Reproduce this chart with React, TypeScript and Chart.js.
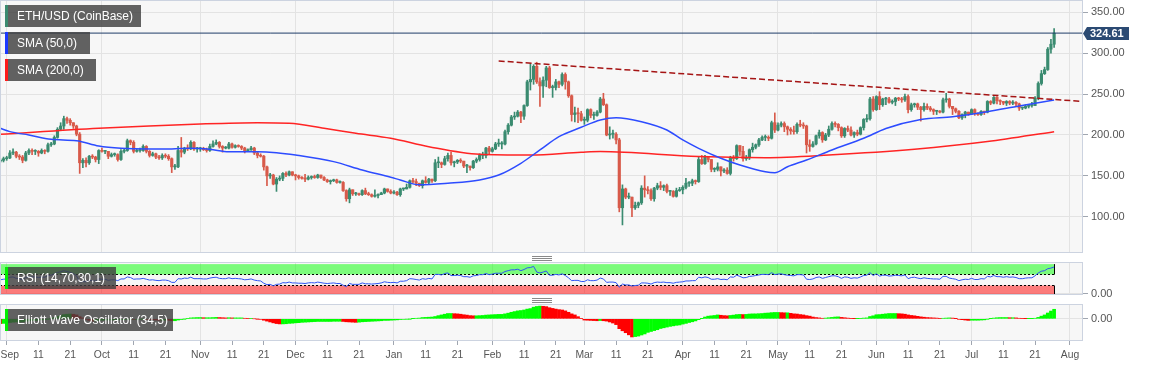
import React, { useEffect, useRef } from 'react';
import { Chart, registerables } from 'chart.js';

Chart.register(...registerables);
Chart.defaults.font.family = '"Liberation Sans", Arial, sans-serif';

// Day index: 0 = 1 Sep 2019. First candle = 30 Aug 2019.
const FIRST_DAY = -2;
const X_MIN = -2.11;
const X_MAX = 339.1;

const monthStartDays = [0, 30, 61, 91, 122, 153, 182, 213, 243, 274, 304, 335];
const xTickDays = [0, 10, 20, 30, 40, 50, 61, 71, 81, 91, 101, 111, 122, 132, 142, 153, 163, 173, 182, 192, 202, 213, 223, 233, 243, 253, 263, 274, 284, 294, 304, 314, 324, 335];
const xTickLabels = ['Sep', '11', '21', 'Oct', '11', '21', 'Nov', '11', '21', 'Dec', '11', '21', 'Jan', '11', '21', 'Feb', '11', '21', 'Mar', '11', '21', 'Apr', '11', '21', 'May', '11', '21', 'Jun', '11', '21', 'Jul', '11', '21', 'Aug'];
const priceTicks = [100, 150, 200, 250, 300, 350];
const rsiLevels = [30, 70];

const firstOpen = 168;
const closes = [
  169, 171,
  172, 178, 179, 174, 173, 169, 178, 181, 180, 180, 178, 181, 180, 188, 189, 197, 207, 211, 220, 218, 215, 211, 201, 166, 169, 166, 174, 173, 170, 181,
  180, 180, 174, 176, 176, 170, 180, 181, 193, 191, 180, 181, 181, 186, 180, 175, 177, 173, 172, 175, 174, 171, 161, 161, 181, 179, 184, 183, 191, 183, 183,
  183, 182, 181, 186, 189, 191, 186, 184, 184, 189, 185, 187, 186, 184, 180, 182, 184, 178, 175, 174, 161, 150, 151, 140, 146, 147, 153, 151, 155, 151,
  150, 148, 147, 146, 148, 149, 148, 151, 148, 145, 143, 144, 145, 142, 142, 132, 122, 133, 128, 128, 127, 132, 128, 127, 125, 126, 127, 129, 134, 131, 129,
  130, 127, 134, 134, 136, 144, 143, 141, 138, 144, 142, 146, 144, 166, 166, 164, 171, 175, 166, 167, 169, 168, 162, 162, 160, 168, 170, 175, 175, 184, 180,
  183, 189, 189, 189, 204, 212, 222, 223, 228, 223, 236, 265, 268, 284, 265, 260, 267, 282, 258, 258, 265, 262, 274, 265, 248, 225, 227, 226, 218,
  218, 231, 224, 224, 228, 244, 237, 200, 201, 201, 194, 111, 134, 124, 124, 111, 114, 117, 135, 133, 132, 122, 135, 138, 136, 138, 131, 131, 125, 132, 133,
  136, 141, 141, 144, 143, 170, 165, 173, 170, 158, 158, 161, 156, 157, 153, 172, 171, 187, 180, 171, 172, 182, 185, 188, 194, 197, 197, 196, 215, 206,
  212, 214, 210, 207, 205, 204, 213, 212, 211, 188, 186, 189, 199, 203, 194, 200, 207, 214, 213, 209, 199, 208, 206, 200, 203, 201, 209, 219, 220, 244, 231,
  247, 237, 244, 244, 240, 241, 245, 244, 243, 247, 231, 237, 238, 234, 231, 235, 233, 231, 229, 229, 228, 243, 244, 235, 232, 229, 221, 225, 228, 226,
  231, 226, 225, 229, 228, 241, 239, 246, 242, 241, 239, 241, 239, 240, 238, 233, 233, 235, 236, 236, 245, 263, 275, 280, 305, 311, 324.61,
];
const highs = [
  171, 173,
  174, 181, 183, 180, 176, 175, 180, 183, 183, 182, 181, 183, 182, 190, 191, 199, 209, 215, 223, 222, 220, 215, 212, 203, 171, 172, 175, 176, 174, 182,
  184, 181, 180, 178, 178, 177, 182, 183, 195, 194, 193, 183, 184, 188, 187, 181, 179, 178, 175, 177, 177, 176, 172, 164, 186, 197, 185, 188, 193, 192, 185,
  185, 185, 184, 189, 193, 194, 192, 187, 186, 191, 190, 188, 188, 187, 185, 183, 186, 185, 179, 177, 175, 162, 153, 152, 148, 150, 154, 155, 156, 155,
  152, 151, 149, 152, 150, 150, 151, 152, 151, 149, 146, 145, 146, 146, 144, 143, 133, 135, 133, 130, 129, 133, 135, 130, 128, 133, 128, 130, 135, 134, 133,
  132, 131, 135, 135, 140, 145, 147, 146, 141, 145, 149, 147, 146, 170, 173, 167, 174, 178, 179, 168, 170, 171, 168, 164, 162, 169, 172, 177, 179, 185, 186,
  185, 191, 195, 192, 206, 214, 224, 228, 230, 229, 237, 267, 287, 286, 289, 270, 271, 284, 284, 261, 268, 266, 276, 276, 266, 249, 234, 233, 229,
  222, 232, 232, 228, 230, 246, 251, 238, 210, 206, 203, 196, 139, 135, 129, 124, 118, 118, 138, 150, 137, 134, 136, 141, 143, 139, 140, 132, 132, 135, 136,
  138, 147, 143, 146, 145, 173, 175, 175, 173, 170, 160, 166, 161, 159, 160, 174, 175, 188, 187, 186, 175, 183, 190, 189, 196, 199, 200, 199, 217, 227,
  215, 216, 216, 211, 209, 211, 215, 218, 215, 212, 194, 192, 200, 206, 204, 202, 211, 216, 216, 214, 210, 209, 211, 210, 204, 206, 210, 220, 225, 246, 247,
  248, 253, 245, 246, 246, 243, 246, 246, 246, 250, 249, 239, 239, 239, 235, 239, 238, 235, 232, 230, 230, 245, 251, 245, 235, 233, 230, 226, 229, 228,
  232, 232, 227, 230, 229, 242, 242, 247, 247, 243, 241, 242, 242, 242, 241, 239, 234, 237, 237, 240, 247, 265, 279, 283, 307, 317, 330,
];
const lows = [
  166, 167,
  169, 171, 176, 172, 170, 166, 168, 176, 176, 176, 174, 177, 177, 179, 186, 188, 196, 206, 207, 214, 212, 208, 199, 153, 160, 161, 164, 171, 167, 165,
  179, 177, 171, 173, 174, 168, 169, 178, 180, 188, 178, 179, 179, 180, 178, 173, 174, 171, 170, 170, 172, 169, 154, 158, 160, 173, 177, 181, 182, 181, 179,
  180, 181, 179, 180, 185, 188, 184, 179, 183, 183, 184, 184, 185, 182, 178, 180, 181, 176, 172, 173, 157, 138, 147, 139, 131, 144, 144, 149, 150, 150,
  145, 146, 146, 143, 145, 146, 147, 147, 147, 144, 142, 140, 143, 141, 141, 131, 119, 117, 126, 126, 126, 126, 127, 126, 124, 124, 123, 127, 128, 130, 128,
  128, 126, 125, 132, 134, 135, 141, 138, 137, 135, 141, 140, 142, 143, 160, 160, 163, 168, 163, 161, 165, 166, 160, 154, 157, 159, 166, 168, 171, 172, 176,
  179, 182, 186, 183, 188, 201, 211, 219, 222, 215, 219, 235, 255, 262, 263, 235, 246, 259, 257, 246, 255, 258, 260, 256, 246, 217, 216, 215, 217,
  213, 216, 221, 219, 223, 227, 236, 199, 195, 196, 189, 106, 90, 122, 122, 100, 109, 111, 115, 124, 128, 120, 119, 133, 133, 132, 129, 126, 124, 124, 131,
  128, 134, 137, 138, 140, 142, 164, 164, 167, 155, 155, 156, 150, 154, 152, 151, 168, 170, 175, 168, 169, 170, 179, 183, 186, 193, 193, 193, 195, 203,
  205, 210, 204, 200, 201, 201, 202, 210, 208, 178, 180, 185, 188, 196, 191, 193, 198, 206, 210, 205, 197, 197, 204, 199, 197, 199, 200, 206, 216, 218, 229,
  230, 231, 235, 237, 239, 238, 236, 242, 240, 241, 227, 229, 234, 231, 217, 229, 231, 229, 225, 225, 227, 227, 240, 233, 225, 227, 220, 219, 221, 224,
  225, 224, 224, 224, 225, 227, 237, 238, 238, 237, 237, 236, 237, 237, 236, 230, 231, 232, 233, 234, 236, 243, 261, 274, 279, 300, 307,
];

const sma50Days = [-2, 1, 7, 14, 22, 29, 36, 45, 52, 58, 64, 70, 79, 85, 91, 103, 112, 121, 124, 130, 139, 149, 155, 162, 168, 174, 181, 187, 192, 200, 208, 213, 218, 225, 231, 239, 242, 246, 252, 260, 270, 277, 288, 298, 309, 319, 330];
const sma50Values = [208.2, 204.1, 200, 194.7, 193, 186.5, 183.7, 182.9, 183, 183.7, 182.5, 179.6, 179.6, 178.4, 175.5, 167.4, 157.2, 148.3, 145, 139, 141, 145, 151, 165.4, 181.7, 198, 209.4, 218.3, 221.2, 216.3, 206.1, 193.9, 183.7, 171.5, 163.3, 155.1, 153.9, 161.2, 169.4, 181.7, 196, 208, 219, 222.4, 228.5, 235.5, 242.8];
const sma200Days = [-2, 29, 61, 79, 89, 100, 110, 121, 133, 149, 165, 181, 187, 218, 239, 259, 286, 309, 330];
const sma200Values = [200.8, 208.2, 213.4, 215, 214.3, 208.2, 202, 196, 185.7, 176.4, 175.5, 178.8, 179.7, 173.6, 172.3, 175.5, 182.5, 191.9, 204.1];
const trendDays = [155, 339.1];
const trendValues = [290.5, 241];

const rsi14 = [
  48, 50,
  51, 57, 58, 53, 52, 48, 56, 59, 58, 58, 56, 58, 57, 63, 64, 69, 74, 76, 80, 77, 74, 70, 62, 40, 42, 41, 46, 45, 44, 51,
  50, 50, 46, 48, 48, 45, 51, 51, 58, 56, 50, 51, 51, 53, 50, 47, 48, 46, 45, 47, 47, 45, 39, 39, 52, 51, 54, 53, 57, 52, 52,
  52, 51, 51, 54, 56, 57, 53, 52, 52, 55, 52, 53, 52, 51, 48, 49, 51, 47, 45, 44, 36, 31, 32, 27, 32, 33, 38, 37, 40, 37,
  37, 36, 36, 35, 37, 38, 37, 40, 38, 36, 35, 36, 37, 35, 35, 29, 24, 35, 32, 32, 32, 37, 34, 34, 33, 34, 35, 37, 41, 39, 38,
  39, 37, 43, 43, 45, 52, 51, 49, 47, 52, 50, 53, 51, 67, 67, 65, 70, 72, 63, 63, 64, 63, 59, 59, 57, 62, 63, 66, 66, 70, 66,
  68, 71, 71, 71, 77, 80, 83, 83, 85, 80, 84, 90, 91, 95, 75, 72, 75, 79, 64, 64, 67, 65, 69, 63, 55, 45, 46, 46, 42,
  42, 48, 45, 45, 47, 54, 51, 39, 40, 40, 38, 22, 33, 30, 30, 26, 28, 29, 37, 37, 36, 33, 38, 40, 39, 40, 38, 38, 36, 39, 40,
  41, 44, 44, 45, 45, 57, 55, 58, 56, 50, 50, 52, 49, 50, 48, 58, 57, 64, 60, 55, 56, 60, 61, 63, 65, 67, 67, 66, 73, 66,
  68, 69, 66, 64, 63, 62, 66, 66, 65, 50, 49, 51, 56, 58, 53, 56, 59, 62, 62, 59, 53, 58, 57, 53, 55, 54, 58, 63, 64, 73, 63,
  69, 61, 64, 64, 61, 62, 64, 63, 62, 65, 52, 56, 57, 54, 52, 55, 53, 52, 51, 51, 50, 60, 60, 54, 52, 50, 45, 48, 50, 49,
  53, 49, 49, 52, 51, 60, 58, 63, 59, 59, 57, 59, 57, 58, 56, 52, 52, 54, 55, 55, 62, 72, 78, 80, 87, 89, 93,
];

const ewo = [
  -27, -26,
  -24, -21, -19, -18, -18, -17, -14, -12, -10, -9, -8, -6, -4, -1, 2, 7, 13, 18, 24, 26, 27, 26, 22, 12, 5, -3, -9, -13, -12, -9,
  -8, -7, -7, -7, -6, -6, -5, -4, -2, -2, -3, -3, -2, -1, -3, -4, -5, -7, -8, -8, -8, -9, -11, -11, -7, -4, -1, 2, 5, 6, 7,
  7, 6, 6, 6, 7, 8, 7, 6, 5, 6, 5, 5, 5, 5, 3, 2, 2, 0, -1, -3, -8, -13, -18, -23, -27, -29, -29, -28, -26, -25,
  -23, -22, -20, -19, -18, -17, -16, -15, -15, -15, -15, -15, -14, -14, -14, -15, -17, -18, -19, -20, -19, -17, -16, -15, -14, -13, -12, -11, -9, -9, -8,
  -7, -6, -4, -3, -2, -1, 1, 3, 4, 7, 8, 9, 10, 13, 18, 22, 26, 30, 30, 29, 28, 26, 23, 21, 18, 17, 17, 18, 19, 21, 22,
  23, 24, 25, 25, 28, 32, 37, 41, 45, 47, 50, 55, 58, 66, 70, 72, 71, 69, 63, 59, 55, 52, 50, 45, 37, 28, 22, 12, 2,
  -7, -8, -9, -10, -11, -10, -11, -13, -18, -24, -33, -56, -68, -79, -91, -103, -101, -98, -92, -86, -77, -72, -67, -62, -55, -51, -47, -43, -40, -37, -35,
  -30, -26, -21, -17, -12, -5, 1, 10, 15, 17, 19, 22, 20, 18, 17, 19, 21, 24, 25, 24, 25, 27, 28, 28, 29, 30, 32, 33, 35, 36,
  36, 35, 34, 34, 31, 28, 27, 24, 22, 18, 15, 10, 7, 5, 3, 4, 6, 8, 10, 11, 8, 6, 4, 2, 1, 1, 2, 4, 5, 13, 17,
  23, 24, 26, 28, 30, 30, 30, 29, 28, 26, 22, 19, 17, 14, 11, 9, 7, 6, 5, 4, 2, 3, 4, 5, 4, 1, -3, -5, -7, -9,
  -8, -8, -8, -7, -6, -2, 1, 4, 6, 7, 7, 7, 6, 6, 5, 3, 2, 1, 1, 1, 3, 8, 15, 22, 33, 44, 54,
];

const lastPrice = closes[closes.length - 1];

// ---------- styles ----------
const UP = '#3a8b70';
const DOWN = '#d85a4a';
const GRID = '#e3e3e3';
const FRAME = '#ccd3e0';
const LABEL = '#555555';
const W = 1153;
const AXIS_W = 70;

const panelPlugin = {
  id: 'panelFrame',
  beforeDraw(chart: any) {
    const { ctx, chartArea: a } = chart;
    ctx.save();
    ctx.fillStyle = '#f7f7f7';
    ctx.fillRect(a.left, a.top, a.right - a.left, a.bottom - a.top);
    ctx.restore();
  },
  afterDraw(chart: any) {
    const { ctx, chartArea: a } = chart;
    ctx.save();
    ctx.strokeStyle = FRAME;
    ctx.lineWidth = 1;
    ctx.strokeRect(a.left + 0.5, a.top + 0.5, a.right - a.left - 1, a.bottom - a.top - 1);
    ctx.restore();
  },
};

const priceTagPlugin = {
  id: 'priceTag',
  afterDraw(chart: any) {
    const { ctx, chartArea: a } = chart;
    const y = Math.round(chart.scales.y.getPixelForValue(lastPrice)) + 0.5;
    const x0 = a.right;
    ctx.save();
    ctx.fillStyle = '#2b4a73';
    ctx.beginPath();
    ctx.moveTo(x0, y);
    ctx.lineTo(x0 + 4, y - 6.5);
    ctx.lineTo(x0 + 46, y - 6.5);
    ctx.lineTo(x0 + 46, y + 6.5);
    ctx.lineTo(x0 + 4, y + 6.5);
    ctx.closePath();
    ctx.fill();
    ctx.fillStyle = '#ffffff';
    ctx.font = 'bold 11px "Liberation Sans", Arial, sans-serif';
    ctx.textBaseline = 'middle';
    ctx.textAlign = 'left';
    ctx.fillText(lastPrice.toFixed(2), x0 + 7, y + 0.5);
    ctx.restore();
  },
};

const rsiBandsPlugin = {
  id: 'rsiBands',
  beforeDatasetsDraw(chart: any) {
    const { ctx, chartArea: a, scales } = chart;
    const xs = scales.x, ys = scales.y;
    const lastDay = FIRST_DAY + closes.length - 1;
    const x0 = a.left;
    const x1 = Math.round(xs.getPixelForValue(lastDay)) + 0.5;
    const yTop = ys.getPixelForValue(103);
    const y70 = Math.round(ys.getPixelForValue(rsiLevels[1])) + 0.5;
    const y30 = Math.round(ys.getPixelForValue(rsiLevels[0])) + 0.5;
    const yBot = a.bottom;
    ctx.save();
    ctx.fillStyle = 'rgba(0,255,0,0.5)';
    ctx.fillRect(x0, yTop, x1 - x0, y70 - yTop);
    ctx.fillStyle = 'rgba(255,0,0,0.5)';
    ctx.fillRect(x0, y30, x1 - x0, yBot - y30);
    ctx.strokeStyle = '#000';
    ctx.lineWidth = 1;
    ctx.setLineDash([2, 2]);
    ctx.beginPath();
    ctx.moveTo(x0, y70); ctx.lineTo(x1, y70);
    ctx.moveTo(x0, y30); ctx.lineTo(x1, y30);
    ctx.stroke();
    ctx.setLineDash([]);
    ctx.beginPath();
    ctx.moveTo(x1, yTop); ctx.lineTo(x1, y70);
    ctx.moveTo(x1, y30); ctx.lineTo(x1, yBot);
    ctx.moveTo(x0 + 0.5, yTop); ctx.lineTo(x0 + 0.5, y70);
    ctx.moveTo(x0 + 0.5, y30); ctx.lineTo(x0 + 0.5, yBot);
    ctx.stroke();
    ctx.restore();
  },
};

const xLabelPlugin = {
  id: 'xLabels',
  afterDraw(chart: any) {
    const { ctx, chartArea: a, scales } = chart;
    ctx.save();
    ctx.fillStyle = LABEL;
    ctx.font = '11.5px "Liberation Sans", Arial, sans-serif';
    ctx.textBaseline = 'middle';
    ctx.textAlign = 'center';
    const sx = 0.9;
    xTickDays.forEach((d, i) => {
      const text = xTickLabels[i];
      const w = ctx.measureText(text).width * sx;
      let x = scales.x.getPixelForValue(d);
      if (x - w / 2 < 0) x = w / 2 + 0.5;
      ctx.save();
      ctx.translate(x, a.bottom + 13.5);
      ctx.scale(sx, 1);
      ctx.fillText(text, 0, 0);
      ctx.restore();
    });
    ctx.restore();
  },
};

const noPadding = (s: any) => {
  s.paddingTop = 0;
  s.paddingBottom = 0;
  s.paddingLeft = 0;
  s.paddingRight = 0;
};

const fixedRightAxis = (ticks: number[], min: number, max: number) => ({
  position: 'right' as const,
  min,
  max,
  afterBuildTicks: (s: any) => { s.ticks = ticks.map((v) => ({ value: v })); },
  afterFit: (s: any) => { s.width = AXIS_W; noPadding(s); },
  ticks: {
    callback: (v: any) => Number(v).toFixed(2),
    color: LABEL,
    font: { size: 11 },
    padding: 3,
  },
  grid: { color: GRID, tickLength: 5, tickColor: '#a0a6b0' },
  border: { display: false },
});

const hiddenX = (ticks: number[]) => ({
  type: 'linear' as const,
  min: X_MIN,
  max: X_MAX,
  offset: false,
  afterBuildTicks: (s: any) => { s.ticks = ticks.map((v) => ({ value: v })); },
  afterFit: (s: any) => { s.height = 0; noPadding(s); },
  ticks: { display: false },
  grid: { color: GRID, drawTicks: false, offset: false },
  border: { display: false },
});

const baseOptions = {
  responsive: false,
  maintainAspectRatio: false,
  animation: false as const,
  devicePixelRatio: 1,
  events: [] as any[],
  plugins: { legend: { display: false }, tooltip: { enabled: false } },
};

function buildMain(canvas: HTMLCanvasElement) {
  const days = closes.map((_, i) => FIRST_DAY + i);
  const opens = closes.map((_, i) => (i === 0 ? firstOpen : closes[i - 1]));
  const colors = closes.map((c, i) => (c >= opens[i] ? UP : DOWN));
  const wicks = days.map((d, i) => ({
    x: d,
    y: [Math.min(lows[i], opens[i], closes[i]), Math.max(highs[i], opens[i], closes[i])],
  }));
  const bodies = days.map((d, i) => ({ x: d, y: [opens[i], closes[i]] }));
  return new Chart(canvas, {
    type: 'bar',
    data: {
      datasets: [
        { type: 'bar', data: wicks as any, backgroundColor: colors, barThickness: 1, grouped: false, order: 6 } as any,
        { type: 'bar', data: bodies as any, backgroundColor: colors, barThickness: 2.5, grouped: false, minBarLength: 1, order: 5 } as any,
        { type: 'line', data: sma200Days.map((d, i) => ({ x: d, y: sma200Values[i] })), borderColor: '#ff2424', borderWidth: 1.5, pointRadius: 0, cubicInterpolationMode: 'monotone', order: 3 } as any,
        { type: 'line', data: sma50Days.map((d, i) => ({ x: d, y: sma50Values[i] })), borderColor: '#2d4cff', borderWidth: 1.5, pointRadius: 0, cubicInterpolationMode: 'monotone', order: 2 } as any,
        { type: 'line', data: trendDays.map((d, i) => ({ x: d, y: trendValues[i] })), borderColor: '#a51414', borderWidth: 1.5, borderDash: [6, 3], pointRadius: 0, order: 1 } as any,
        { type: 'line', data: [{ x: X_MIN, y: lastPrice }, { x: X_MAX, y: lastPrice }], borderColor: '#1f3d68', borderWidth: 1, pointRadius: 0, order: 1 } as any,
      ],
    },
    options: {
      ...baseOptions,
      layout: { autoPadding: false, padding: { top: 0, bottom: 5, left: 0, right: 0 } },
      scales: {
        x: hiddenX(monthStartDays) as any,
        y: fixedRightAxis(priceTicks, 55.66, 365.1) as any,
      },
    } as any,
    plugins: [panelPlugin, priceTagPlugin],
  });
}

function buildRsi(canvas: HTMLCanvasElement) {
  const data = rsi14.map((v, i) => ({ x: FIRST_DAY + i, y: v }));
  return new Chart(canvas, {
    type: 'line',
    data: {
      datasets: [
        { data, borderColor: '#2f55f5', borderWidth: 1, pointRadius: 0, tension: 0 } as any,
      ],
    },
    options: {
      ...baseOptions,
      layout: { autoPadding: false, padding: { top: 4, bottom: 9, left: 0, right: 0 } },
      scales: {
        x: hiddenX(monthStartDays) as any,
        y: fixedRightAxis([0], -5.3, 110.4) as any,
      },
    } as any,
    plugins: [panelPlugin, rsiBandsPlugin],
  });
}

function buildEwo(canvas: HTMLCanvasElement) {
  const data = ewo.map((v, i) => ({ x: FIRST_DAY + i, y: v }));
  const colors = ewo.map((v, i) => (i > 0 && v >= ewo[i - 1] ? '#00ff00' : '#ff0000'));
  return new Chart(canvas, {
    type: 'bar',
    data: {
      datasets: [
        { data, backgroundColor: colors, barThickness: 3, grouped: false } as any,
      ],
    },
    options: {
      ...baseOptions,
      layout: { autoPadding: false, padding: { top: 4, bottom: 0, left: 0, right: 0 } },
      scales: {
        x: {
          type: 'linear',
          min: X_MIN,
          max: X_MAX,
          offset: false,
          afterBuildTicks: (s: any) => { s.ticks = xTickDays.map((v) => ({ value: v })); },
          afterFit: (s: any) => { s.height = 26; noPadding(s); },
          ticks: { display: false },
          grid: {
            color: (c: any) => (c.tick && monthStartDays.includes(c.tick.value) ? GRID : 'rgba(0,0,0,0)'),
            tickColor: '#a0a6b0',
            tickLength: 4,
            offset: false,
          },
          border: { display: false },
        },
        y: fixedRightAxis([0], -126, 84) as any,
      },
    } as any,
    plugins: [panelPlugin, xLabelPlugin],
  });
}

const boxStyle = (top: number, width: number, stripe: string): React.CSSProperties => ({
  position: 'absolute',
  left: 5,
  top,
  width,
  height: 22,
  boxSizing: 'border-box',
  background: 'rgba(64,64,64,0.82)',
  borderLeft: `3px solid ${stripe}`,
  color: '#ffffff',
  font: '12px "Liberation Sans", Arial, sans-serif',
  lineHeight: '22px',
  paddingLeft: 9,
  whiteSpace: 'nowrap',
});

function Grip({ top }: { top: number }) {
  const line = (dy: number): React.CSSProperties => ({
    position: 'absolute', left: 532, top: top + dy, width: 20, height: 1, background: '#8a8a8a',
  });
  return (
    <>
      <div style={line(0)} />
      <div style={line(2)} />
      <div style={line(4)} />
    </>
  );
}

export default function App() {
  const mainRef = useRef<HTMLCanvasElement>(null);
  const rsiRef = useRef<HTMLCanvasElement>(null);
  const ewoRef = useRef<HTMLCanvasElement>(null);

  useEffect(() => {
    const charts = [
      buildMain(mainRef.current!),
      buildRsi(rsiRef.current!),
      buildEwo(ewoRef.current!),
    ];
    return () => charts.forEach((c) => c.destroy());
  }, []);

  const canvasStyle = (top: number, h: number): React.CSSProperties => ({
    position: 'absolute', left: 0, top, width: W, height: h, display: 'block',
  });

  return (
    <div style={{ position: 'absolute', left: 0, top: 0, width: W, height: 367, background: '#ffffff', overflow: 'hidden' }}>
      <canvas ref={mainRef} width={W} height={258} style={canvasStyle(0, 258)} />
      <canvas ref={rsiRef} width={W} height={46} style={canvasStyle(258, 46)} />
      <canvas ref={ewoRef} width={W} height={67} style={canvasStyle(300, 67)} />
      <div style={boxStyle(5, 136, '#3b8a70')}>ETH/USD (CoinBase)</div>
      <div style={boxStyle(32, 85, '#1a38ff')}>SMA (50,0)</div>
      <div style={boxStyle(59, 91, '#ff1a1a')}>SMA (200,0)</div>
      <div style={boxStyle(267, 111, '#00ee00')}>RSI (14,70,30,1)</div>
      <div style={boxStyle(309, 168, '#00ee00')}>Elliott Wave Oscillator (34,5)</div>
      <Grip top={256} />
      <Grip top={298} />
    </div>
  );
}
